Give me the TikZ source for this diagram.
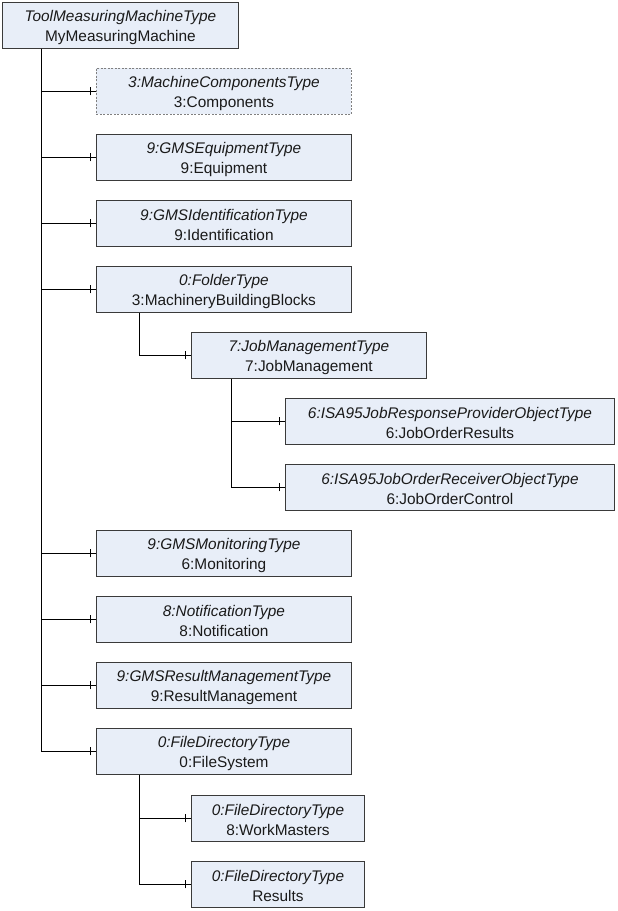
\documentclass[tikz,border=0pt]{standalone}
\usepackage{fontspec}
\setmainfont{Liberation Sans}
\definecolor{boxfill}{HTML}{E8EEF8}
\definecolor{boxline}{HTML}{3A3A3A}
\definecolor{txt}{HTML}{1A1A1A}
\begin{document}
\begin{tikzpicture}[x=1pt,y=-1pt,
  box/.style={draw=boxline,fill=boxfill,line width=0.9pt,minimum height=46pt,
    anchor=north west,inner sep=0pt,align=center,text=txt,
    font=\fontsize{15.4}{20}\selectfont},
  dbox/.style={box,draw=gray,dash pattern=on 2pt off 1.5pt},
  conn/.style={draw=black,line width=0.9pt},
  tickm/.style={draw=black,line width=0.9pt}]
\useasboundingbox (0,0) rectangle (618,911);
\newcommand{\tp}[2]{\rule{0pt}{15pt}\textit{#1}\\#2}
\node[box,minimum width=236pt] (root) at (2,2) {\tp{ToolMeasuringMachineType}{MyMeasuringMachine}};
\node[dbox,minimum width=255pt] (comp) at (96,68) {\tp{3:MachineComponentsType}{3:Components}};
\node[box,minimum width=255pt] (equip) at (96,134) {\tp{9:GMSEquipmentType}{9:Equipment}};
\node[box,minimum width=255pt] (ident) at (96,200) {\tp{9:GMSIdentificationType}{9:Identification}};
\node[box,minimum width=255pt] (mbb) at (96,266) {\tp{0:FolderType}{3:MachineryBuildingBlocks}};
\node[box,minimum width=235pt] (jm) at (191,332) {\tp{7:JobManagementType}{7:JobManagement}};
\node[box,minimum width=329pt] (jor) at (285,398) {\tp{6:ISA95JobResponseProviderObjectType}{6:JobOrderResults}};
\node[box,minimum width=329pt] (joc) at (285,464) {\tp{6:ISA95JobOrderReceiverObjectType}{6:JobOrderControl}};
\node[box,minimum width=255pt] (mon) at (96,530) {\tp{9:GMSMonitoringType}{6:Monitoring}};
\node[box,minimum width=255pt] (notif) at (96,596) {\tp{8:NotificationType}{8:Notification}};
\node[box,minimum width=255pt] (rm) at (96,662) {\tp{9:GMSResultManagementType}{9:ResultManagement}};
\node[box,minimum width=255pt] (fs) at (96,728) {\tp{0:FileDirectoryType}{0:FileSystem}};
\node[box,minimum width=173pt] (wm) at (191,795) {\tp{0:FileDirectoryType}{8:WorkMasters}};
\node[box,minimum width=173pt] (res) at (191,861) {\tp{0:FileDirectoryType}{Results}};
\foreach \c in {comp,equip,ident,mbb,mon,notif,rm,fs}
  \draw[conn] ([xshift=39pt]root.south west) |- (\c.west);
\draw[conn] ([xshift=43pt]mbb.south west) |- (jm.west);
\foreach \c in {jor,joc}
  \draw[conn] ([xshift=40pt]jm.south west) |- (\c.west);
\foreach \c in {wm,res}
  \draw[conn] ([xshift=43pt]fs.south west) |- (\c.west);
\foreach \c in {comp,equip,ident,mbb,jm,jor,joc,mon,notif,rm,fs,wm,res}
  \draw[tickm] ([xshift=-6pt,yshift=-4pt]\c.west) -- ([xshift=-6pt,yshift=4pt]\c.west);
\end{tikzpicture}
\end{document}
